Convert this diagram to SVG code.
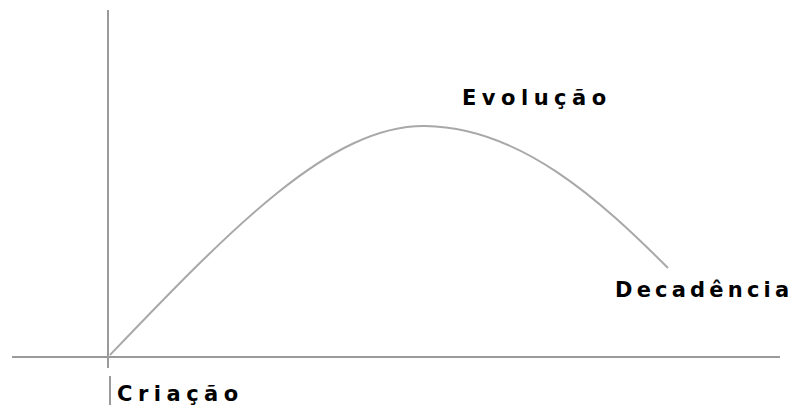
<svg xmlns="http://www.w3.org/2000/svg" width="801" height="410" viewBox="0 0 801 410">
<style>
.ax{stroke:#9a9a9a;stroke-width:2;fill:none}
.cv{stroke:#a8a8a8;stroke-width:2;fill:none}
.lb{font-family:"DejaVu Sans",Verdana,sans-serif;font-weight:bold;font-size:21px;fill:#000;letter-spacing:5.5px}
</style>
<rect width="801" height="410" fill="#fff"/>
<g id="connectors">
<line class="ax" x1="108" y1="10" x2="108" y2="368"/>
<line class="ax" x1="110" y1="376" x2="110" y2="405"/>
<line class="ax" x1="12" y1="357" x2="780" y2="357"/>
<path class="cv" d="M110,355 C230,230 330,125 425,126 C520,127 600,200 668,268"/>
</g>
<g id="evolucao"><text class="lb" x="462" y="105">Evolução</text></g>
<g id="decadencia"><text class="lb" x="615" y="297" style="letter-spacing:4.2px">Decadência</text></g>
<g id="criacao"><text class="lb" x="117" y="401">Criação</text></g>
</svg>
